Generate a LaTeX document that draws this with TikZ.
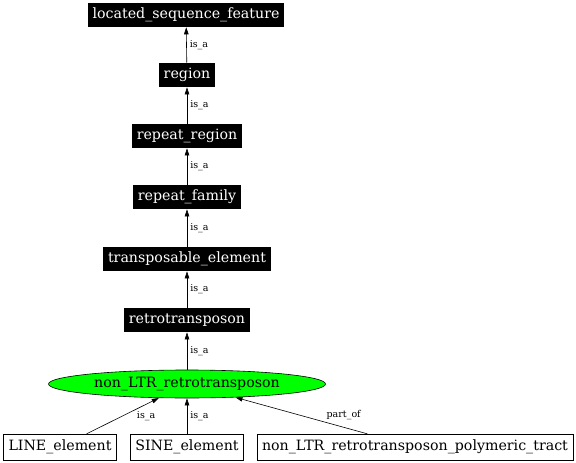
\documentclass[tikz,border=0pt]{standalone}
\usepackage{fontspec}
\setmainfont{DejaVu Serif}
\usetikzlibrary{shapes.geometric,arrows.meta}

\begin{document}
\begin{tikzpicture}[x=1pt,y=-1pt,->,>={Triangle[length=7pt,width=4.5pt]},semithick]
\tikzstyle{term}=[fill=black,text=white,inner xsep=5pt,inner ysep=0pt,minimum height=24pt,font=\fontsize{14.2}{15}\selectfont]
\tikzstyle{focus}=[ellipse,draw=black,fill=green,inner sep=0pt,minimum width=277pt,minimum height=28pt,font=\fontsize{14.2}{15}\selectfont]
\tikzstyle{child}=[draw=black,thin,fill=white,inner xsep=5pt,inner ysep=0pt,minimum height=26pt,font=\fontsize{14.2}{15}\selectfont]
\tikzstyle{lbl}=[font=\fontsize{9.5}{10}\selectfont,text=black,inner sep=1pt]
\useasboundingbox (0,0) rectangle (576,463);
\node[term]  (lsf)    at (186,15)  {located\_sequence\_feature};
\node[term]  (reg)    at (187,75)  {region};
\node[term]  (rreg)   at (187,136) {repeat\_region};
\node[term]  (rfam)   at (187,197) {repeat\_family};
\node[term]  (tel)    at (187,259) {transposable\_element};
\node[term]  (retro)  at (187,320) {retrotransposon};
\node[focus] (nonltr) at (187,384) {non\_LTR\_retrotransposon};
\node[child] (line)   at (60,447)  {LINE\_element};
\node[child] (sine)   at (187,447) {SINE\_element};
\node[child] (tract)  at (415,447) {non\_LTR\_retrotransposon\_polymeric\_tract};
\path
(reg)    edge node[lbl,right=2pt]  {is\_a} (lsf)
(rreg)   edge node[lbl,right=2pt]  {is\_a} (reg)
(rfam)   edge node[lbl,right=2pt]  {is\_a} (rreg)
(tel)    edge node[lbl,right=2pt]  {is\_a} (rfam)
(retro)  edge node[lbl,right=2pt]  {is\_a} (tel)
(nonltr) edge node[lbl,right=2pt]  {is\_a} (retro)
(line)   edge node[lbl,right=13pt] {is\_a} (nonltr)
(sine)   edge node[lbl,right=2pt]  {is\_a} (nonltr)
(tract)  edge node[lbl,right=24pt,yshift=1pt] {part\_of} (nonltr);
\end{tikzpicture}
\end{document}
